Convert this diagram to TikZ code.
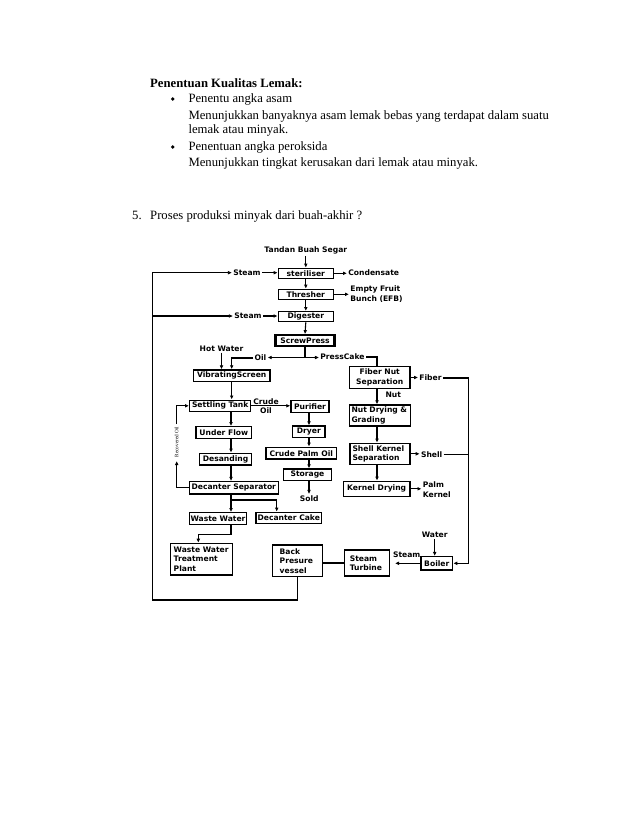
\documentclass[tikz,border=0pt]{standalone}
\usepackage{fontspec}
\setmainfont{Liberation Serif}
\newfontfamily\dgfont{DejaVu Sans}
\usetikzlibrary{arrows.meta}
\begin{document}
\begin{tikzpicture}[x=1pt,y=-1pt,
  box/.style={draw=black, line width=1.4pt, inner sep=0pt, align=center,
    font=\dgfont\bfseries\fontsize{7.6}{9.5}\selectfont},
  lbox/.style={box, align=left, inner xsep=3pt},
  lbl/.style={inner sep=1.2pt, align=center,
    font=\dgfont\bfseries\fontsize{7.6}{9.5}\selectfont},
  conn/.style={line width=1.1pt, draw=black},
  arr/.style={conn, -{Latex[length=4pt,width=3.8pt]}},
  txt/.style={anchor=base west, inner sep=0pt, font=\fontsize{12.7}{15}\selectfont},
  bul/.style={circle, fill=black, inner sep=0pt, minimum size=3.8pt}
]
\useasboundingbox (0,0) rectangle (638,826);
\fill[white] (0,0) rectangle (638,826);

% ---- text above ----
\node[txt, font=\bfseries\fontsize{12.7}{15}\selectfont] (head) at (150,87.5) {Penentuan Kualitas Lemak:};
\node[bul] (b1) at (172.7,99) {};
\node[txt] (t1) at (188.3,103) {Penentu angka asam};
\node[txt] (t2) at (188.3,120) {Menunjukkan banyaknya asam lemak bebas yang terdapat dalam suatu};
\node[txt] (t3) at (188.3,134) {lemak atau minyak.};
\node[bul] (b2) at (172.7,147) {};
\node[txt] (t4) at (188.3,151) {Penentuan angka peroksida};
\node[txt] (t5) at (188.3,167) {Menunjukkan tingkat kerusakan dari lemak atau minyak.};
\node[txt] (n5) at (132,219) {5.};
\node[txt] (t6) at (150,219) {Proses produksi minyak dari buah-akhir ?};

% ---- helper coordinates ----
\coordinate (lc) at (231,0);
\coordinate (rc) at (309,0);
\coordinate (nc) at (377,0);
\coordinate (rx) at (468.3,0);
\coordinate (dcx) at (276.7,0);
\coordinate (wcx) at (198.3,0);
\coordinate (lb) at (152.3,600);
\coordinate (sj) at (305,357.5);
\coordinate (dj) at (231,500);
\coordinate (wj) at (231,534.3);
\coordinate (rb) at (176.7,461);
\coordinate (rt) at (176.7,424);

% ---- boxes ----
\node[box, minimum width=55, minimum height=10] (ster) at (305.8,273.3) {steriliser};
\node[box, minimum width=55, minimum height=10] (thr) at (305.8,294.3) {Thresher};
\node[box, minimum width=55, minimum height=10] (dig) at (305.8,316.7) {Digester};
\node[box, line width=2.2pt, minimum width=59, minimum height=10.5] (scr) at (305,340.5) {ScrewPress};
\node[box, minimum width=76.5, minimum height=11.7] (vib) at (231.7,375.8) {VibratingScreen};
\node[box, minimum width=61, minimum height=11.2] (set) at (220.2,405.8) {Settling Tank};
\node[box, minimum width=38, minimum height=11.6] (pur) at (310,406.5) {Purifier};
\node[box, minimum width=32.3, minimum height=11.3] (dry) at (308.8,431.7) {Dryer};
\node[box, minimum width=70.7, minimum height=11.7] (cpo) at (301.3,453.2) {Crude Palm Oil};
\node[box, minimum width=48.4, minimum height=11.7] (sto) at (307.5,474.8) {Storage};
\node[box, minimum width=55.7, minimum height=11.6] (und) at (223.8,432.5) {Under Flow};
\node[box, minimum width=52.4, minimum height=11.7] (des) at (225.5,459.2) {Desanding};
\node[box, minimum width=89, minimum height=12.3] (dec) at (233.8,487.8) {Decanter Separator};
\node[box, minimum width=57.4, minimum height=11.6] (ww) at (218,518.5) {Waste Water};
\node[box, minimum width=65.7, minimum height=11] (dcake) at (288.8,517.8) {Decanter Cake};
\node[lbox, text width=55.6, minimum height=31.7] (wwtp) at (201.5,559.2) {Waste Water\\Treatment\\Plant};
\node[lbox, inner xsep=7pt, text width=36, minimum height=31.7] (bpv) at (297.7,560.8) {Back\\Presure\\vessel};
\node[lbox, inner xsep=5.5pt, text width=34, minimum height=26] (stt) at (366.8,563) {Steam\\Turbine};
\node[box, minimum width=31.7, minimum height=13.3] (boil) at (436.8,563.3) {Boiler};
\node[box, minimum width=60.7, minimum height=21.6] (fns) at (379.7,377.5) {Fiber Nut\\Separation};
\node[lbox, inner xsep=2pt, text width=57, minimum height=21] (ndg) at (380,415.5) {Nut Drying \&\\Grading};
\node[lbox, inner xsep=2.5pt, text width=55, minimum height=21] (skn) at (380,453.8) {Shell Kernel\\Separation};
\node[box, minimum width=66.7, minimum height=15] (kd) at (376.7,488.8) {Kernel Drying};

% ---- labels ----
\node[lbl] (tbs) at (305.8,250.7) {Tandan Buah Segar};
\node[lbl] (steam1) at (247,272.7) {Steam};
\node[lbl] (steam2) at (248,316) {Steam};
\node[lbl, anchor=west] (cond) at (347,273) {Condensate};
\node[lbl, anchor=west, align=left] (efb) at (349,294) {Empty Fruit\\Bunch (EFB)};
\node[lbl] (hw) at (221.5,348.3) {Hot Water};
\node[lbl] (oil) at (260.5,358) {Oil};
\node[lbl] (pc) at (342.5,357) {PressCake};
\node[lbl] (crude) at (266,406.2) {Crude\\Oil};
\node[inner sep=1pt, rotate=90, font=\fontsize{5.2}{6}\selectfont] (rec) at (176.7,442) {Recovered Oil};
\node[lbl] (sold) at (309.2,498.3) {Sold};
\node[lbl] (fiber) at (430.5,378) {Fiber};
\node[lbl] (nut) at (393.3,394.3) {Nut};
\node[lbl] (shell) at (431.7,454.7) {Shell};
\node[lbl, anchor=west, align=left] (pk) at (421.5,489.8) {Palm\\Kernel};
\node[lbl] (water) at (434.7,535) {Water};
\node[lbl] (steam3) at (406.7,554.3) {Steam};

% ---- connectors ----
\draw[arr] (tbs.south) -- (ster.north);
\draw[arr] (ster.south) -- (thr.north);
\draw[arr] (thr.south) -- (dig.north);
\draw[arr] (dig.south) -- (scr.north);
\draw[arr] (steam1.east) -- (steam1.east -| ster.west);
\draw[arr] (ster.east) -- (ster.east -| cond.west);
\draw[arr] (thr.east) -- (thr.east -| efb.west);
\draw[arr] (steam2.east) -- (steam2.east -| dig.west);
\draw[arr] (bpv.south) |- (lb) |- (steam1.west);
\draw[arr] (lb |- steam2.west) -- (steam2.west);
\draw[conn] (scr.south) -- (sj);
\draw[arr] (sj) -- (sj -| oil.east);
\draw[arr] (sj) -- (sj -| pc.west);
\draw[conn] (pc.east) -| (fns.north -| nc);
\draw[arr] (oil.west) -| (vib.north);
\draw[arr] (hw.south) -- (hw.south |- vib.north);
\draw[arr] (vib.south) -- (vib.south |- set.north);
\draw[arr] (set.east) -- (set.east -| pur.west);
\draw[arr] (set.south -| lc) -- (und.north -| lc);
\draw[arr] (und.south -| lc) -- (des.north -| lc);
\draw[arr] (des.south -| lc) -- (dec.north -| lc);
\draw[arr] (dec.south -| lc) -- (ww.north -| lc);
\draw[arr] (dj) -| (dcake.north -| dcx);
\draw[arr] (ww.south -| lc) -- (wj) -| (wwtp.north -| wcx);
\draw[arr] (dec.west) -| (rb);
\draw[arr] (rt) |- (set.west);
\draw[arr] (pur.south -| rc) -- (dry.north -| rc);
\draw[arr] (dry.south -| rc) -- (cpo.north -| rc);
\draw[arr] (cpo.south -| rc) -- (sto.north -| rc);
\draw[arr] (sto.south -| rc) -- (sold.north -| rc);
\draw[arr] (fns.east) -- (fns.east -| fiber.west);
\draw[arr] (fns.south -| nc) -- (ndg.north -| nc);
\draw[arr] (ndg.south -| nc) -- (skn.north -| nc);
\draw[arr] (skn.south -| nc) -- (kd.north -| nc);
\draw[arr] (skn.east) -- (skn.east -| shell.west);
\draw[arr] (kd.east) -- (kd.east -| pk.west);
\draw[arr] (fiber.east) -| (boil.east -| rx) -- (boil.east);
\draw[conn] (shell.east) -- (shell.east -| rx);
\draw[arr] (water.south) -- (water.south |- boil.north);
\draw[arr, shorten >=5pt] (boil.west) -- (boil.west -| stt.east);
\draw[conn] (stt.west) -- (stt.west -| bpv.east);
\end{tikzpicture}
\end{document}
